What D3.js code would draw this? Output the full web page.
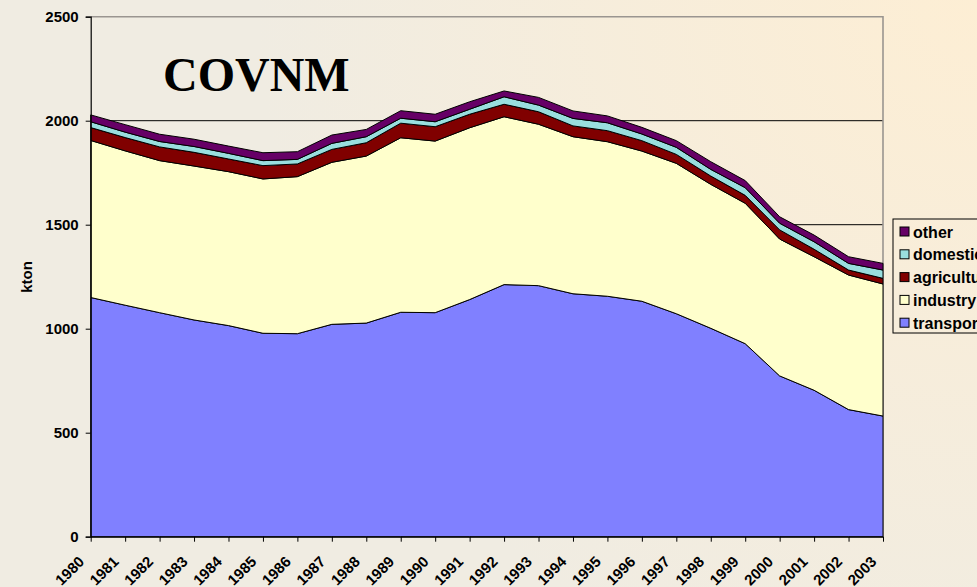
<!DOCTYPE html>
<html>
<head>
<meta charset="utf-8">
<script src="https://cdn.jsdelivr.net/npm/d3@7"></script>
<style>
  html, body { margin: 0; padding: 0; }
  #svg-container { width: 977px; height: 587px; }
  .tick-label { font-family: Arial, "Liberation Sans", sans-serif; font-weight: bold; font-size: 15px; }
  .legend-label { font-family: Arial, "Liberation Sans", sans-serif; font-weight: bold; font-size: 16px; }
</style>
</head>
<body>
<div id="svg-container"></div>
<script>
////////////////////////////////////////////////////////////////////
////////////////////////////  Data  ////////////////////////////////

const years = [1980, 1981, 1982, 1983, 1984, 1985, 1986, 1987, 1988, 1989, 1990, 1991,
  1992, 1993, 1994, 1995, 1996, 1997, 1998, 1999, 2000, 2001, 2002, 2003];

// kton per sector
const transport = [1150, 1113, 1077, 1042, 1015, 978, 976, 1021, 1027, 1079, 1077, 1140,
  1212, 1207, 1168, 1156, 1132, 1072, 1002, 928, 773, 704, 611, 580];
const industry = [755, 742, 731, 740, 740, 742, 755, 779, 803, 839, 825, 826,
  807, 776, 755, 743, 722, 723, 692, 675, 658, 642, 647, 635];
const agriculture = [62, 64, 66, 66, 61, 64, 61, 62, 64, 70, 69, 65,
  60, 60, 52, 53, 50, 43, 40, 38, 44, 36, 24, 27];
const domestic = [28, 26, 26, 28, 27, 24, 22, 29, 29, 24, 24, 24,
  36, 32, 36, 38, 32, 34, 32, 37, 32, 36, 32, 40];
const other = [33, 36, 35, 35, 35, 38, 37, 40, 35, 36, 36, 36,
  28, 37, 36, 33, 32, 32, 37, 34, 31, 32, 32, 32];

const sectors = ["transport", "industry", "agriculture", "domestic", "other"];
const yTicks = [0, 500, 1000, 1500, 2000, 2500];

const colors = {
  transport: "#8080ff",
  industry: "#ffffcc",
  agriculture: "#800000",
  domestic: "#99dede",
  other: "#660066",
};

////////////////////////////////////////////////////////////////////
////////////////////////////  Init  ////////////////////////////////

const width = 977;
const height = 587;

const svg = d3.select("#svg-container").append("svg")
  .attr("width", width)
  .attr("height", height);

// background gradient (peach top right -> greyish beige)
const defs = svg.append("defs");
const grad = defs.append("radialGradient")
  .attr("id", "bg")
  .attr("gradientUnits", "userSpaceOnUse")
  .attr("cx", width).attr("cy", 0).attr("r", 720);
grad.append("stop").attr("offset", "0%").attr("stop-color", "#fdeed4");
grad.append("stop").attr("offset", "100%").attr("stop-color", "#f0ece2");

svg.append("rect")
  .attr("width", width).attr("height", height)
  .attr("fill", "url(#bg)");

// scales
const x = d3.scalePoint().domain(years).range([90.7, 883]);
const y = d3.scaleLinear().domain([0, 2500]).range([536.7, 16.7]);

// table for the stack
const table = years.map((yr, i) => ({
  year: yr,
  transport: transport[i],
  industry: industry[i],
  agriculture: agriculture[i],
  domestic: domestic[i],
  other: other[i],
}));

const series = d3.stack().keys(sectors)(table);

////////////////////////////////////////////////////////////////////
////////////////////////////  Draw  ////////////////////////////////

// gridlines
svg.append("g")
  .selectAll("line")
  .data(yTicks.filter((d) => d > 0 && d < 2500))
  .join("line")
  .attr("x1", x.range()[0]).attr("x2", x.range()[1])
  .attr("y1", (d) => y(d)).attr("y2", (d) => y(d))
  .attr("stroke", "#000")
  .attr("stroke-width", 1);

// plot border, top and right
svg.append("path")
  .attr("d", `M${x.range()[0]},${y(2500)}H${x.range()[1]}V${y(0)}`)
  .attr("fill", "none")
  .attr("stroke", "#9a9590")
  .attr("stroke-width", 1.6);

// areas
const area = d3.area()
  .x((d) => x(d.data.year))
  .y0((d) => y(d[0]))
  .y1((d) => y(d[1]));

svg.append("g")
  .selectAll("path")
  .data(series)
  .join("path")
  .attr("d", area)
  .attr("fill", (d) => colors[d.key])
  .attr("stroke", "#000")
  .attr("stroke-width", 1)
  .attr("stroke-linejoin", "round");

// y axis
const yAxis = svg.append("g")
  .attr("transform", `translate(${x.range()[0]},0)`)
  .call(d3.axisLeft(y).tickValues(yTicks).tickSize(5).tickPadding(7).tickFormat(d3.format("d")));
yAxis.select(".domain").attr("stroke", "#000").attr("stroke-width", 1.2);
yAxis.selectAll(".tick line").attr("stroke", "#000");
yAxis.selectAll(".tick text")
  .attr("class", "tick-label")
  .attr("fill", "#000")
  .attr("dy", "0.35em");

// x axis
const xAxis = svg.append("g")
  .attr("transform", `translate(0,${y(0)})`)
  .call(d3.axisBottom(x).tickSize(5).tickSizeOuter(0));
xAxis.select(".domain").attr("stroke", "#000").attr("stroke-width", 1.2);
xAxis.selectAll(".tick line").attr("stroke", "#000");
xAxis.selectAll(".tick text")
  .attr("class", "tick-label")
  .attr("fill", "#000")
  .attr("text-anchor", "end")
  .attr("x", 0).attr("y", 0).attr("dy", 0)
  .attr("transform", "translate(-6,26) rotate(-45)");

// y label
svg.append("text")
  .attr("class", "tick-label")
  .attr("transform", "translate(32,277) rotate(-90)")
  .attr("text-anchor", "middle")
  .text("kton");

// title
svg.append("text")
  .attr("x", 163).attr("y", 91)
  .attr("font-family", "'Times New Roman', 'Liberation Serif', serif")
  .attr("font-weight", "bold")
  .attr("font-size", 48)
  .text("COVNM");

// legend (runs past the right edge, as in the source)
const legend = svg.append("g").attr("transform", "translate(893,219)");
legend.append("rect")
  .attr("width", 120).attr("height", 114)
  .attr("fill", "none")
  .attr("stroke", "#000")
  .attr("stroke-width", 1);

const legendItems = sectors.slice().reverse();
const item = legend.selectAll(".item")
  .data(legendItems)
  .join("g")
  .attr("class", "item")
  .attr("transform", (d, i) => `translate(0,${13 + i * 22.8})`);

item.append("rect")
  .attr("x", 7).attr("y", -5)
  .attr("width", 9).attr("height", 9)
  .attr("fill", (d) => colors[d])
  .attr("stroke", "#000");

item.append("text")
  .attr("class", "legend-label")
  .attr("x", 20).attr("y", 0)
  .attr("dy", "0.35em")
  .text((d) => d);
</script>
</body>
</html>
